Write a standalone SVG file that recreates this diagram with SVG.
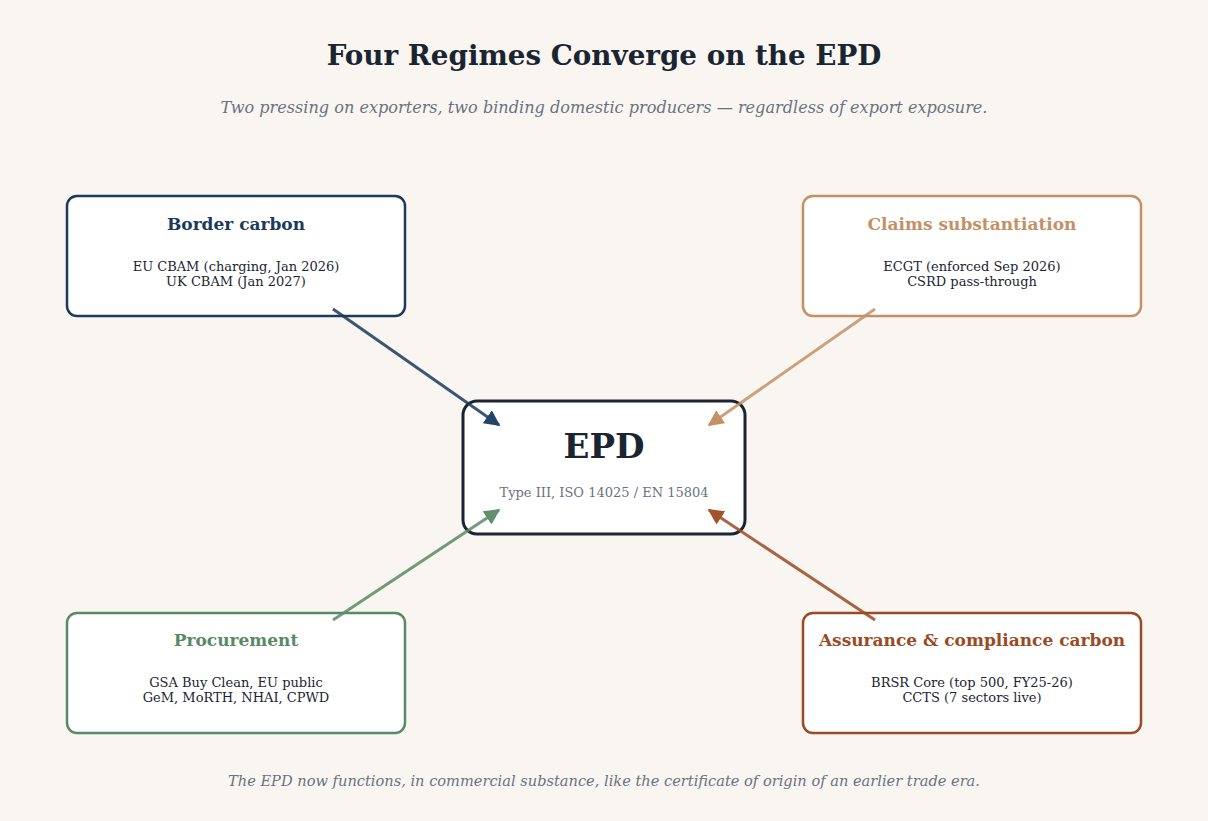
<svg xmlns="http://www.w3.org/2000/svg" width="1208" height="821" viewBox="0 0 1208 821">
<style>
text{font-family:"DejaVu Serif","Liberation Serif",serif;text-anchor:middle}
.title{font-size:27.75px;font-weight:bold;fill:#1b2532}
.sub{font-size:16.1px;font-style:italic;fill:#6b7280}
.foot{font-size:14.6px;font-style:italic;fill:#6b7280}
.box{fill:#ffffff;stroke-width:2.5}
.ht{font-size:17px;font-weight:bold}
.bt{font-size:13px;fill:#1b2532}
.conn{stroke-width:3;fill:none}
</style>
<defs>
<marker id="aNavy" viewBox="0 0 10 10" refX="9" refY="5" markerWidth="5.3" markerHeight="5.3" orient="auto" markerUnits="strokeWidth"><path d="M0,0 L10,5 L0,10 z" fill="#24456b"/></marker>
<marker id="aTan" viewBox="0 0 10 10" refX="9" refY="5" markerWidth="5.3" markerHeight="5.3" orient="auto" markerUnits="strokeWidth"><path d="M0,0 L10,5 L0,10 z" fill="#c49066"/></marker>
<marker id="aGreen" viewBox="0 0 10 10" refX="9" refY="5" markerWidth="5.3" markerHeight="5.3" orient="auto" markerUnits="strokeWidth"><path d="M0,0 L10,5 L0,10 z" fill="#5f9170"/></marker>
<marker id="aRust" viewBox="0 0 10 10" refX="9" refY="5" markerWidth="5.3" markerHeight="5.3" orient="auto" markerUnits="strokeWidth"><path d="M0,0 L10,5 L0,10 z" fill="#a2532e"/></marker>
</defs>
<rect width="1208" height="821" fill="#f9f6f1"/>
<text class="title" x="604" y="65">Four Regimes Converge on the EPD</text>
<text class="sub" x="604" y="113">Two pressing on exporters, two binding domestic producers — regardless of export exposure.</text>

<g id="epd">
<rect x="463" y="401" width="282" height="133" rx="14" fill="#ffffff" stroke="#1b2532" stroke-width="3"/>
<text x="604" y="458" style="font-size:34px;font-weight:bold;fill:#1b2532">EPD</text>
<text x="604" y="497" style="font-size:13px;fill:#6b7280">Type III, ISO 14025 / EN 15804</text>
</g>

<g id="border">
<rect class="box" x="67" y="196" width="338" height="120" rx="10" stroke="#1b3a5c"/>
<text class="ht" x="236" y="230" fill="#1b3a5c">Border carbon</text>
<text class="bt" x="236" y="271">EU CBAM (charging, Jan 2026)</text>
<text class="bt" x="236" y="286">UK CBAM (Jan 2027)</text>
</g>

<g id="claims">
<rect class="box" x="803" y="196" width="338" height="120" rx="10" stroke="#c49066"/>
<text class="ht" x="972" y="230" fill="#c49066">Claims substantiation</text>
<text class="bt" x="972" y="271">ECGT (enforced Sep 2026)</text>
<text class="bt" x="972" y="286">CSRD pass-through</text>
</g>

<g id="procurement">
<rect class="box" x="67" y="613" width="338" height="120" rx="10" stroke="#5a8a65"/>
<text class="ht" x="236" y="646" fill="#5a8a65">Procurement</text>
<text class="bt" x="236" y="687">GSA Buy Clean, EU public</text>
<text class="bt" x="236" y="702">GeM, MoRTH, NHAI, CPWD</text>
</g>

<g id="assurance">
<rect class="box" x="803" y="613" width="338" height="120" rx="10" stroke="#9a4a25"/>
<text class="ht" x="972" y="646" fill="#9a4a25">Assurance &amp; compliance carbon</text>
<text class="bt" x="972" y="687">BRSR Core (top 500, FY25-26)</text>
<text class="bt" x="972" y="702">CCTS (7 sectors live)</text>
</g>

<g id="connectors">
<line class="conn" x1="333" y1="309" x2="499" y2="425" stroke="#1b3a5c" stroke-opacity="0.85" marker-end="url(#aNavy)"/>
<line class="conn" x1="875" y1="309" x2="709" y2="425" stroke="#c49066" stroke-opacity="0.85" marker-end="url(#aTan)"/>
<line class="conn" x1="333" y1="620" x2="499" y2="510" stroke="#5a8a65" stroke-opacity="0.85" marker-end="url(#aGreen)"/>
<line class="conn" x1="875" y1="620" x2="709" y2="510" stroke="#9a4a25" stroke-opacity="0.85" marker-end="url(#aRust)"/>
</g>

<text class="foot" x="604" y="786">The EPD now functions, in commercial substance, like the certificate of origin of an earlier trade era.</text>
</svg>
